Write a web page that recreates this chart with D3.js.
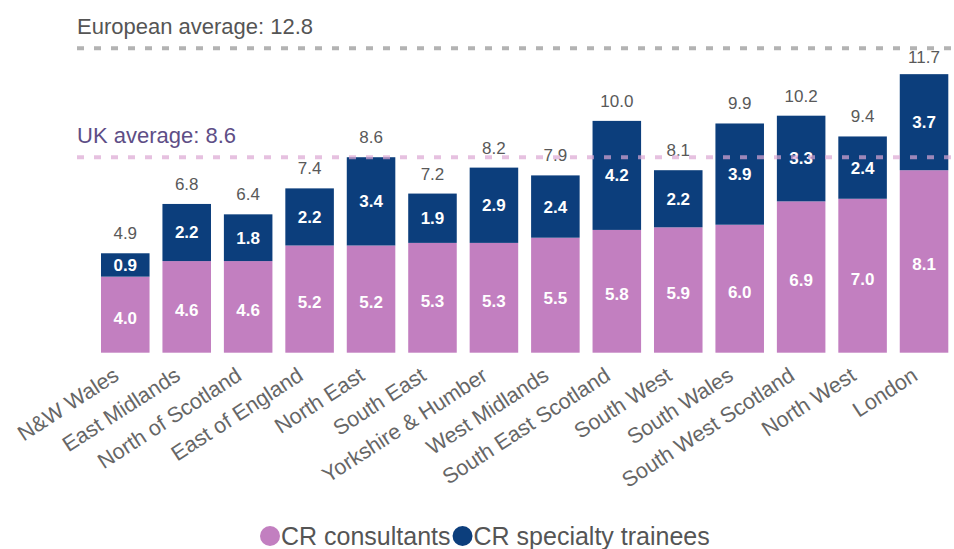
<!DOCTYPE html>
<html>
<head>
<meta charset="utf-8">
<script src="https://cdn.jsdelivr.net/npm/d3@7"></script>
<style>
  html, body { margin: 0; padding: 0; background: #ffffff; }
  svg { display: block; font-family: "Liberation Sans", Arial, sans-serif; }
</style>
</head>
<body>
<svg id="chart" width="954" height="549"></svg>
<script>
const regions = ["N&W Wales", "East Midlands", "North of Scotland", "East of England", "North East",
  "South East", "Yorkshire & Humber", "West Midlands", "South East Scotland", "South West",
  "South Wales", "South West Scotland", "North West", "London"];
const consultants = [4.0, 4.6, 4.6, 5.2, 5.2, 5.3, 5.3, 5.5, 5.8, 5.9, 6.0, 6.9, 7.0, 8.1];
const trainees = [0.9, 2.2, 1.8, 2.2, 3.4, 1.9, 2.9, 2.4, 4.2, 2.2, 3.9, 3.3, 2.4, 3.7];
const totals = [4.9, 6.8, 6.4, 7.4, 8.6, 7.2, 8.2, 7.9, 10.0, 8.1, 9.9, 10.2, 9.4, 11.7];
const seriesNames = ["CR consultants", "CR specialty trainees"];
const europeanAverage = 12.8;
const ukAverage = 8.6;

const colors = ["#c27fc0", "#0c3e7c"];

const svg = d3.select("#chart");

const plotBottom = 352.7;
const x = d3.scaleBand().domain(regions).range([101, 948.3]).paddingInner(0.21).paddingOuter(0);
const y = d3.scaleLinear().domain([1.07, 12.8]).range([plotBottom, 48.2]);

const data = regions.map((r, i) => ({ region: r, consultants: consultants[i], trainees: trainees[i], total: totals[i] }));
const stack = d3.stack().keys(["consultants", "trainees"]);
const series = stack(data);

const gBars = svg.append("g");
series.forEach((s, si) => {
  gBars.selectAll(null).data(s).enter().append("rect")
    .attr("x", d => x(d.data.region))
    .attr("width", x.bandwidth())
    .attr("y", d => y(d[1]))
    .attr("height", d => Math.min(y(d[0]), plotBottom) - y(d[1]))
    .attr("fill", colors[si]);
});

// segment labels
series.forEach((s, si) => {
  gBars.selectAll(null).data(s).enter().append("text")
    .attr("x", d => x(d.data.region) + x.bandwidth() / 2)
    .attr("y", d => (y(d[1]) + Math.min(y(d[0]), plotBottom)) / 2 + (si === 0 ? 3 : 0))
    .attr("dy", "0.35em")
    .attr("text-anchor", "middle")
    .attr("fill", "#ffffff")
    .attr("font-size", 17)
    .attr("font-weight", "bold")
    .text(d => (d[1] - d[0]).toFixed(1));
});

// total labels
svg.append("g").selectAll("text").data(data).enter().append("text")
  .attr("x", d => x(d.region) + x.bandwidth() / 2)
  .attr("y", d => y(d.total) - 14)
  .attr("text-anchor", "middle")
  .attr("fill", "#595959")
  .attr("font-size", 17)
  .text(d => d.total.toFixed(1));

// average lines
svg.append("line")
  .attr("x1", 77).attr("x2", 954)
  .attr("y1", y(europeanAverage)).attr("y2", y(europeanAverage))
  .attr("stroke", "#b3b3b3").attr("stroke-width", 4)
  .attr("stroke-dasharray", "7,10");
svg.append("text")
  .attr("x", 77).attr("y", 34)
  .attr("fill", "#555555").attr("font-size", 22)
  .text("European average: " + europeanAverage.toFixed(1));

svg.append("line")
  .attr("x1", 77).attr("x2", 954)
  .attr("y1", y(ukAverage)).attr("y2", y(ukAverage))
  .attr("stroke", "#dba7d3").attr("stroke-width", 4).attr("stroke-opacity", 0.7)
  .attr("stroke-dasharray", "7,10");
svg.append("text")
  .attr("x", 77).attr("y", 143)
  .attr("fill", "#5e4e86").attr("font-size", 22)
  .text("UK average: " + ukAverage.toFixed(1));

// x axis labels
svg.append("g").selectAll("text").data(regions).enter().append("text")
  .attr("transform", d => `translate(${x(d) + x.bandwidth() / 2 - 5},${379}) rotate(-33)`)
  .attr("text-anchor", "end")
  .attr("fill", "#666666")
  .attr("font-size", 21.5)
  .text(d => d);

// legend
const legend = svg.append("g");
const lgY = 536;
let cx = 270;
seriesNames.forEach((name, i) => {
  legend.append("circle").attr("cx", cx).attr("cy", lgY).attr("r", 10).attr("fill", colors[i]);
  const t = legend.append("text")
    .attr("x", cx + 11).attr("y", lgY + 9)
    .attr("fill", "#555555").attr("font-size", 25)
    .text(name);
  cx = cx + 11 + t.node().getComputedTextLength() + 12;
});
</script>
</body>
</html>
